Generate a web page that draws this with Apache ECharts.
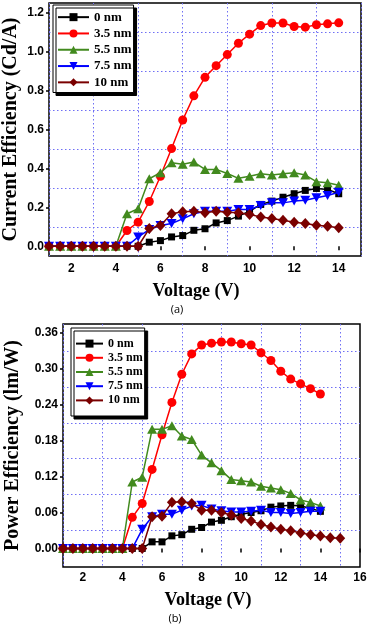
<!DOCTYPE html>
<html>
<head>
<meta charset="utf-8">
<script src="https://cdn.jsdelivr.net/npm/echarts@6/dist/echarts.min.js"></script>
<style>
html,body{margin:0;padding:0;background:#fff;}
#chart{width:370px;height:628px;}
</style>
</head>
<body>
<div id="chart"></div>
<script>
// ---------- data ----------
const seriesNames = ['0 nm', '3.5 nm', '5.5 nm', '7.5 nm', '10 nm'];
const voltage = [1,1.5,2,2.5,3,3.5,4,4.5,5,5.5,6,6.5,7,7.5,8,8.5,9,9.5,10,10.5,11,11.5,12,12.5,13,13.5,14];
const voltageLong = [1,1.5,2,2.5,3,3.5,4,4.5,5,5.5,6,6.5,7,7.5,8,8.5,9,9.5,10,10.5,11,11.5,12,12.5,13,13.5,14,14.5,15];

// (a) Current efficiency (Cd/A)
const ce0nm  = [0,0,0,0,0,0,0,0,0,0.021,0.029,0.048,0.055,0.082,0.09,0.12,0.132,0.155,0.18,0.215,0.232,0.252,0.27,0.287,0.297,0.292,0.27];
const ce35nm = [0,0,0,0,0,0,0,0.081,0.124,0.23,0.36,0.502,0.649,0.773,0.868,0.928,0.985,1.043,1.09,1.134,1.147,1.147,1.129,1.126,1.138,1.143,1.148];
const ce55nm = [0,0,0,0,0,0,0,0.167,0.193,0.347,0.378,0.429,0.421,0.433,0.395,0.395,0.374,0.349,0.36,0.373,0.366,0.373,0.378,0.366,0.332,0.326,0.313];
const ce75nm = [0,0,0,0,0,0,0,0,0.048,0.086,0.107,0.117,0.141,0.167,0.18,0.18,0.18,0.189,0.189,0.21,0.223,0.223,0.232,0.237,0.249,0.261,0.278];
const ce10nm = [0,0,0,0,0,0,0,0,0,0.091,0.107,0.167,0.177,0.18,0.172,0.18,0.175,0.172,0.163,0.151,0.143,0.134,0.124,0.117,0.108,0.103,0.095];

// (b) Power efficiency (lm/W)
const pe0nm  = [0,0,0,0,0,0,0,0,0,0.011,0.011,0.021,0.023,0.032,0.035,0.044,0.047,0.053,0.057,0.06,0.063,0.069,0.071,0.072,0.071,0.067,0.062];
const pe35nm = [0,0,0,0,0,0,0,0.052,0.075,0.132,0.19,0.244,0.291,0.325,0.34,0.343,0.345,0.345,0.342,0.34,0.327,0.314,0.296,0.283,0.275,0.267,0.258];
const pe55nm = [0,0,0,0,0,0,0,0.111,0.119,0.199,0.199,0.205,0.188,0.182,0.156,0.143,0.13,0.115,0.113,0.111,0.104,0.101,0.098,0.092,0.081,0.077,0.071];
const pe75nm = [0,0,0,0,0,0,0,0,0.032,0.053,0.057,0.057,0.064,0.071,0.072,0.066,0.063,0.061,0.061,0.062,0.064,0.06,0.06,0.0585,0.06,0.062,0.062];
const pe10nm = [0,0,0,0,0,0,0,0,0,0.053,0.054,0.077,0.078,0.075,0.064,0.064,0.06,0.056,0.05,0.046,0.04,0.036,0.032,0.0295,0.026,0.023,0.021,0.018,0.017];

// tick labels / grid positions
const xTicksA = [2,4,6,8,10,12,14];
const xGridA  = [1,3,5,7,9,11,13,15];
const yTicksA = [0,0.2,0.4,0.6,0.8,1.0,1.2];
const yGridA  = [0.1,0.3,0.5,0.7,0.9,1.1];
const xTicksB = [2,4,6,8,10,12,14,16];
const xGridB  = [1,3,5,7,9,11,13,15];
const yTicksB = [0,0.06,0.12,0.18,0.24,0.30,0.36];
const yGridB  = [0.03,0.09,0.15,0.21,0.27,0.33];

// ---------- styles ----------
const colors  = ['#000000', '#ff0000', '#428a1e', '#0000ff', '#7a0000'];
const symbols = ['rect', 'circle', 'triangle', 'path://M0,0 L10,0 L5,9 Z', 'diamond'];
const symSizes = [[7,7],[9,9],[10,9],[10,9],[10,11]];

const tickFont = {fontFamily: 'Liberation Sans', fontWeight: 'bold', fontSize: 12, color: '#000'};
const titleFont = {fontFamily: 'Liberation Serif', fontWeight: 'bold', color: '#000'};
const gridLine = {show: true, lineStyle: {color: '#6f6ff5', width: 1, type: [1.5, 2.5]}};

function pairs(xs, ys) { return ys.map((v, i) => [xs[i], v]); }

function mainX(gridIndex, max, ticks, nameGap, padR) {
  return {
    type: 'value', gridIndex: gridIndex, min: 1, max: max,
    axisLine: {show: false},
    axisTick: {show: true, inside: false, length: 4, customValues: ticks, lineStyle: {color: '#000', width: 1.5}},
    axisLabel: Object.assign({customValues: ticks, margin: gridIndex === 0 ? 7 : 5, formatter: v => String(v)}, tickFont),
    splitLine: {show: false},
    name: 'Voltage (V)', nameLocation: 'middle', nameGap: nameGap, nameMoveOverlap: false,
    nameTextStyle: Object.assign({fontSize: 18, padding: [0, padR, 0, 0]}, titleFont)
  };
}
function gridX(gridIndex, max, ticks) {
  return {
    type: 'value', gridIndex: gridIndex, min: 1, max: max, position: 'bottom',
    axisLine: {show: false}, axisLabel: {show: false},
    axisTick: {show: false, customValues: ticks},
    splitLine: gridLine
  };
}
function mainY(gridIndex, min, max, ticks, digits, name, nameGap) {
  return {
    type: 'value', gridIndex: gridIndex, min: min, max: max,
    axisLine: {show: false},
    axisTick: {show: true, length: 3, customValues: ticks, lineStyle: {color: '#000', width: 1.5}},
    axisLabel: Object.assign({customValues: ticks, margin: 5, formatter: v => v.toFixed(digits)}, tickFont),
    splitLine: {show: false},
    name: name, nameLocation: 'middle', nameGap: nameGap, nameMoveOverlap: false,
    nameTextStyle: Object.assign({fontSize: 20}, titleFont)
  };
}
function gridY(gridIndex, min, max, ticks) {
  return {
    type: 'value', gridIndex: gridIndex, min: min, max: max, position: 'left',
    axisLine: {show: false}, axisLabel: {show: false},
    axisTick: {show: false, customValues: ticks},
    splitLine: gridLine
  };
}

function makeSeries(xIdx, yIdx, dataList) {
  return dataList.map((d, i) => ({
    name: seriesNames[i], type: 'line', xAxisIndex: xIdx, yAxisIndex: yIdx,
    data: d, symbol: symbols[i], symbolSize: symSizes[i], showSymbol: true,
    lineStyle: {color: colors[i], width: 1.5},
    itemStyle: {color: colors[i]},
    z: 3 + i, animation: false
  }));
}

const seriesA = makeSeries(0, 0, [
  pairs(voltage, ce0nm), pairs(voltage, ce35nm), pairs(voltage, ce55nm), pairs(voltage, ce75nm), pairs(voltage, ce10nm)
]);
const seriesB = makeSeries(2, 2, [
  pairs(voltage, pe0nm), pairs(voltage, pe35nm), pairs(voltage, pe55nm), pairs(voltage, pe75nm), pairs(voltageLong, pe10nm)
]);

const legendBase = {
  orient: 'vertical', backgroundColor: '#fff', borderColor: '#000', borderWidth: 1,
  shadowColor: '#000', shadowOffsetX: 3, shadowOffsetY: 3, shadowBlur: 0,
  selectedMode: false, itemHeight: 10
};

const captionStyle = {fontFamily: 'Open Sans', fontWeight: 'normal', fontSize: 11, color: '#000'};

const option = {
  animation: false,
  backgroundColor: '#fff',
  title: [
    {text: '(a)', left: 177, top: 304, textAlign: 'center', padding: 0, textStyle: captionStyle},
    {text: '(b)', left: 175, top: 613, textAlign: 'center', padding: 0, textStyle: captionStyle}
  ],
  grid: [
    {left: 49, right: 9, top: 3, height: 253, show: true, borderColor: '#000', borderWidth: 1.5,
     backgroundColor: 'transparent', containLabel: false, outerBoundsMode: 'none'},
    {left: 63, right: 10, top: 324, height: 243, show: true, borderColor: '#000', borderWidth: 1.5,
     backgroundColor: 'transparent', containLabel: false, outerBoundsMode: 'none'}
  ],
  legend: [
    Object.assign({}, legendBase, {
      left: 53, top: 5, padding: [5, 2, 3, 4], itemGap: 2, itemWidth: 31,
      data: seriesNames,
      textStyle: Object.assign({fontSize: 13, lineHeight: 14.3}, titleFont)
    }),
    Object.assign({}, legendBase, {
      left: 71, top: 328, padding: [9, 2, 9, 4], itemGap: 1, itemWidth: 27,
      data: seriesNames,
      textStyle: Object.assign({fontSize: 12, lineHeight: 13.2}, titleFont)
    })
  ],
  xAxis: [
    mainX(0, 15, xTicksA, 26, 18),
    gridX(0, 15, xGridA),
    mainX(1, 16, xTicksB, 24, 7),
    gridX(1, 16, xGridB)
  ],
  yAxis: [
    mainY(0, -0.05, 1.25, yTicksA, 1, 'Current Efficiency (Cd/A)', 28),
    gridY(0, -0.05, 1.25, yGridA),
    mainY(1, -0.031, 0.375, yTicksB, 2, 'Power Efficiency (lm/W)', 40),
    gridY(1, -0.031, 0.375, yGridB)
  ],
  series: seriesA.concat(seriesB)
};

const chart = echarts.init(document.getElementById('chart'), null, {renderer: 'canvas'});
chart.setOption(option);
</script>
</body>
</html>
